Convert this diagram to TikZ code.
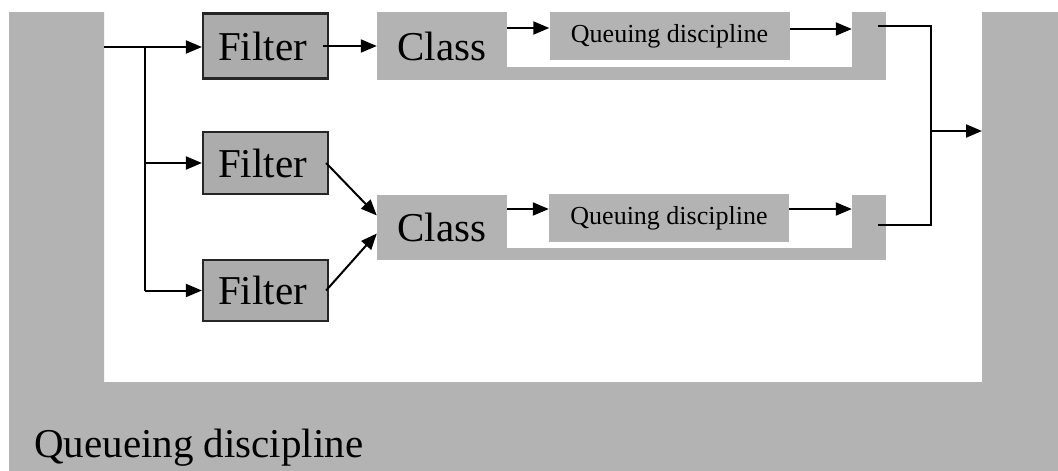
\documentclass[tikz,border=0pt]{standalone}
\usepackage{fontspec}
\setmainfont{Liberation Serif}
\usetikzlibrary{arrows.meta}
\definecolor{qgray}{RGB}{179,179,179}
\definecolor{fgray}{RGB}{172,172,172}

\begin{document}
\begin{tikzpicture}[x=1pt,y=-1pt,
  flow/.style={line width=2pt,-{Triangle[length=16pt,width=13pt]}},
  wire/.style={line width=2pt},
  filterbox/.style={draw=black!85,line width=2.2pt,fill=fgray,inner sep=0pt,
    minimum width=125pt,font=\fontsize{41}{41}\selectfont},
  filtertext/.style={xshift=-3pt},
  classbox/.style={fill=qgray,inner sep=0pt,minimum width=130pt,
    font=\fontsize{41}{41}\selectfont},
  qdiscbox/.style={fill=qgray,inner sep=0pt,minimum width=240pt,minimum height=48pt,
    font=\fontsize{26}{26}\selectfont},
  tailbox/.style={fill=qgray,inner sep=0pt,minimum width=34pt},
]
\useasboundingbox (0,0) rectangle (1058,471);

% outer queueing discipline frame
\fill[qgray] (9,12) -- (104,12) -- (104,382) -- (982,382) -- (982,12)
  -- (1058,12) -- (1058,471) -- (9,471) -- cycle;
\node[anchor=base west,inner sep=0pt,font=\fontsize{41}{41}\selectfont]
  (qlabel) at (34,457) {Queueing discipline};

% filters
\node[filterbox,minimum height=65pt] (f1) at (265.5,46) {\hspace*{-6pt}Filter};
\node[filterbox,minimum height=62pt] (f2) at (265.5,163) {\hspace*{-6pt}Filter};
\node[filterbox,minimum height=61pt] (f3) at (265.5,290.5) {\hspace*{-6pt}Filter};

% class 1 with its queuing discipline
\fill[qgray] (377,67) rectangle (886,80);
\node[classbox,minimum height=68pt] (c1) at (442,46) {Class};
\node[tailbox,minimum height=68pt] (t1) at (869,46) {};
\node[qdiscbox] (q1) at (669.5,36) {Queuing discipline};

% class 2 with its queuing discipline
\fill[qgray] (377,248) rectangle (886,260);
\node[classbox,minimum height=65pt] (c2) at (442,227.5) {Class};
\node[tailbox,minimum height=65pt] (t2) at (869,227.5) {};
\node[qdiscbox] (q2) at (669,218) {Queuing discipline};

% input and branching
\coordinate (in) at (104,47);
\coordinate (br) at (145,47);
\draw[flow] (in) -- (in -| f1.west);
\draw[wire] (br) -- (br |- f3);
\draw[flow] (br |- f2) -- (f2.west);
\draw[flow] (br |- f3) -- (f3.west);

% filters to classes
\draw[flow] ([xshift=-6pt]f1.east) -- (f1.east -| c1.west);
\draw[flow] ([xshift=-3pt]f2.east) -- ([yshift=12pt]c2.west);
\draw[flow] ([xshift=-3pt]f3.east) -- ([yshift=-6pt]c2.west);

% classes to queuing disciplines and onwards
\draw[flow] ([yshift=8pt]q1.west -| c1.east) -- ([yshift=8pt]q1.west);
\draw[flow] ([yshift=9pt]q2.west -| c2.east) -- ([yshift=9pt]q2.west);
\draw[flow] ([yshift=7pt]q1.east) -- ([yshift=7pt]q1.east -| t1.west);
\draw[flow] ([yshift=9pt]q2.east) -- ([yshift=9pt]q2.east -| t2.west);

% merge to the output
\coordinate (o1) at (878,26);
\coordinate (o2) at (878,225);
\coordinate (j) at (931,131);
\coordinate (out) at (982,131);
\draw[wire] (o1) -| (j) |- (o2);
\draw[flow] (j) -- (out);
\end{tikzpicture}
\end{document}
